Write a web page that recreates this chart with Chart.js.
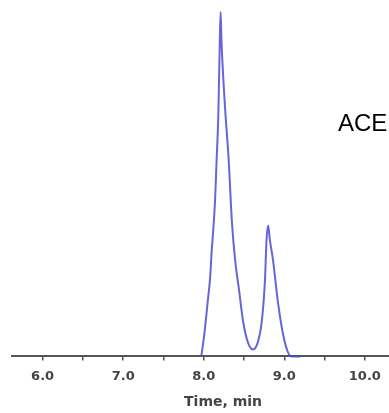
<!DOCTYPE html>
<html lang="en">
<head>
    <meta charset="UTF-8">
    <title>ACE chromatogram</title>
    <script src="https://cdn.jsdelivr.net/npm/chart.js"></script>
    <style>
        html, body { margin: 0; padding: 0; background: #fff; }
        #wrap { position: relative; width: 389px; height: 413px; }
        #label { position: absolute; left: 338px; top: 109px; font: 24px "Liberation Sans", Arial, sans-serif; color: #000; }
    </style>
</head>
<body>
    <div id="wrap">
        <canvas id="chromChart" width="389" height="413"></canvas>
        <div id="label">ACE</div>
    </div>

    <script>
        // retention time (min) and relative intensity
        const times = [7.97, 8.01, 8.05, 8.08, 8.10, 8.11, 8.14, 8.16, 8.18, 8.19, 8.20, 8.21,
                       8.22, 8.26, 8.31, 8.35, 8.39, 8.44, 8.49, 8.55, 8.61,
                       8.67, 8.72, 8.76, 8.78, 8.80, 8.82, 8.86, 8.92, 8.98, 9.04, 9.09, 9.20];
        const intensity = [0, 7, 16, 23, 31, 34, 45, 57, 69, 80, 92, 100,
                           92, 74, 57, 39, 28, 19, 10, 4, 2,
                           4, 10, 22, 34, 38, 34, 28, 16, 7, 1.5, 0, 0];
        const tickValues = [6.0, 6.5, 7.0, 7.5, 8.0, 8.5, 9.0, 9.5, 10.0];
        const axisTitle = 'Time, min';

        const points = times.map((t, i) => ({ x: t, y: intensity[i] }));

        // the axis title sits a bit right of the axis centre in the original
        const offsetTitle = {
            id: 'offsetTitle',
            afterDraw(chart) {
                const ctx = chart.ctx;
                const x = chart.scales.x.getPixelForValue(8.24);
                ctx.save();
                ctx.font = 'bold 14px "DejaVu Sans", sans-serif';
                ctx.fillStyle = '#444';
                ctx.textAlign = 'center';
                ctx.textBaseline = 'middle';
                ctx.fillText(axisTitle, x, 402);
                ctx.restore();
            }
        };

        new Chart(document.getElementById('chromChart'), {
            type: 'line',
            data: {
                datasets: [{
                    data: points,
                    borderColor: 'rgba(75, 75, 210, 0.85)',
                    borderWidth: 2,
                    pointRadius: 0,
                    cubicInterpolationMode: 'monotone',
                    clip: false
                }]
            },
            options: {
                responsive: false,
                animation: false,
                layout: { padding: { left: 12, right: 0, top: 0, bottom: 21 } },
                plugins: { legend: { display: false }, tooltip: { enabled: false } },
                scales: {
                    x: {
                        type: 'linear',
                        min: 5.62,
                        max: 10.3,
                        afterBuildTicks: scale => { scale.ticks = tickValues.map(v => ({ value: v })); },
                        border: { color: '#555', width: 2 },
                        grid: { drawOnChartArea: false, drawTicks: true, tickLength: 4, color: '#555', lineWidth: 1.5 },
                        ticks: {
                            autoSkip: false,
                            maxRotation: 0,
                            color: '#444',
                            padding: 8,
                            font: { family: '"DejaVu Sans", sans-serif', size: 13, weight: 'bold' },
                            callback: v => (v % 1 === 0 ? v.toFixed(1) : '')
                        }
                    },
                    y: {
                        display: false,
                        min: 0,
                        max: 103.5
                    }
                }
            },
            plugins: [offsetTitle]
        });
    </script>
</body>
</html>
